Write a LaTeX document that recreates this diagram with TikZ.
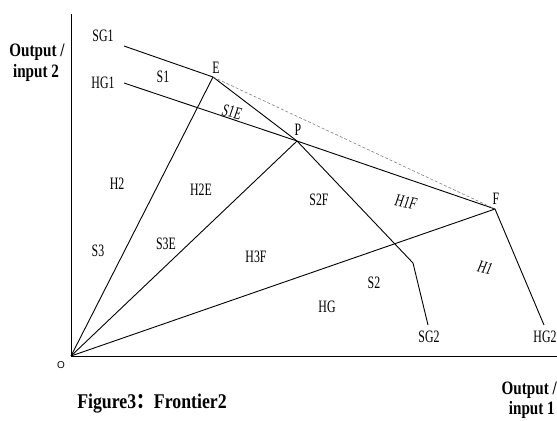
\documentclass[tikz,border=0pt]{standalone}
\usepackage{graphicx}
\usepackage{fontspec}
\setmainfont{Liberation Serif}
\newfontfamily\cjk{Noto Sans CJK SC}
\newfontfamily\sansf{Liberation Sans}
\newcommand{\nl}[1]{\scalebox{0.68}[1]{#1}}
\newcommand{\tl}[1]{\scalebox{0.8}[1]{#1}}
\begin{document}
\begin{tikzpicture}[x=1bp,y=-1bp,
  lbl/.style={inner sep=0pt, font=\fontsize{17.5}{17.5}\selectfont},
  ttl/.style={inner sep=0pt, font=\fontsize{19}{19}\selectfont\bfseries},
  ln/.style={line width=0.9bp, black},
  guide/.style={line width=0.6bp, gray, dash pattern=on 3bp off 2bp}]
\useasboundingbox (0,0) rectangle (557,420);
% key points
\coordinate (O) at (71,356);
\coordinate (Ytop) at (71,14);
\coordinate (Xend) at (557,356);
\coordinate (SGa) at (124,46);
\coordinate (HGa) at (124,83);
\coordinate (E) at (213,77);
\coordinate (P) at (297,141);
\coordinate (F) at (495,209);
\coordinate (K) at (413,263);
\coordinate (SGb) at (428,325);
\coordinate (HGb) at (544,325);
% axes
\draw[ln] (Ytop) -- (O) -- (Xend);
% frontiers
\draw[ln] (SGa) -- (E) -- (P) -- (K) -- (SGb);
\draw[ln] (HGa) -- (P) -- (F) -- (HGb);
\draw[guide] (E) -- (F);
% rays
\draw[ln] (O) -- (E);
\draw[ln] (O) -- (P);
\draw[ln] (O) -- (F);
% labels
\node[lbl] (lSG1) at (103,36) {\nl{SG1}};
\node[lbl] (lHG1) at (103,83) {\nl{HG1}};
\node[lbl] (lS1) at (163,77) {\nl{S1}};
\node[lbl] (lE) at (216,68) {\nl{E}};
\node[lbl, rotate=-12] (lS1E) at (232,112) {\nl{\itshape S1E}};
\node[lbl] (lP) at (298,130) {\nl{P}};
\node[lbl] (lH2) at (117,184) {\nl{H2}};
\node[lbl] (lH2E) at (201,190) {\nl{H2E}};
\node[lbl] (lS2F) at (319,200) {\nl{S2F}};
\node[lbl, rotate=-12] (lH1F) at (406,202) {\nl{\itshape H1F}};
\node[lbl] (lF) at (496,199) {\nl{F}};
\node[lbl] (lS3) at (98,251) {\nl{S3}};
\node[lbl] (lS3E) at (166,244) {\nl{S3E}};
\node[lbl] (lH3F) at (256,257) {\nl{H3F}};
\node[lbl] (lS2) at (374,283) {\nl{S2}};
\node[lbl] (lHG) at (327,307) {\nl{HG}};
\node[lbl, rotate=-15] (lH1) at (485,268) {\nl{\itshape H1}};
\node[lbl] (lSG2) at (429,337) {\nl{SG2}};
\node[lbl] (lHG2) at (545,337) {\nl{HG2}};
\node[inner sep=0pt, font=\sansf\fontsize{10}{10}\selectfont] (lO) at (61,365) {O};
% axis titles
\node[ttl] (yt1) at (37,52) {\tl{Output /}};
\node[ttl] (yt2) at (36,73) {\tl{input 2}};
\node[ttl, anchor=east] (xt1) at (557,390) {\tl{Output /}};
\node[ttl, anchor=east] (xt2) at (555,410) {\tl{input 1}};
% caption
\node[inner sep=0pt, font=\fontsize{21}{21}\selectfont\bfseries] (cap) at (152,404) {\scalebox{0.85}[1]{Figure3{\cjk ：}Frontier2}};
\end{tikzpicture}
\end{document}
